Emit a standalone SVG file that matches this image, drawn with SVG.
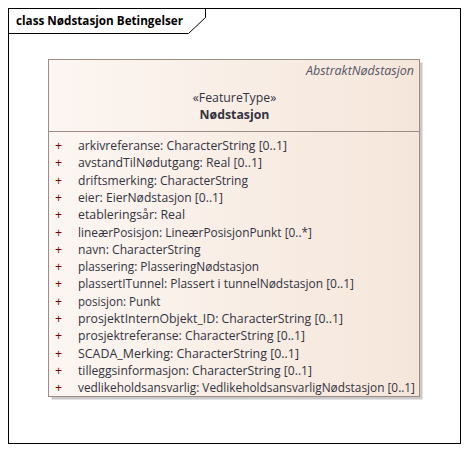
<svg xmlns="http://www.w3.org/2000/svg" width="469" height="452" viewBox="0 0 469 452">
<defs>
<linearGradient id="g" x1="0" y1="0" x2="1" y2="0">
<stop offset="0" stop-color="#FCF6F2"/>
<stop offset="1" stop-color="#F5E6DA"/>
</linearGradient>
<style>
.t{font-family:"Open Sans","Noto Sans","DejaVu Sans",sans-serif;font-size:12.3px;fill:#333340}
.p{font-family:"Open Sans","Noto Sans","DejaVu Sans",sans-serif;font-size:12.3px;fill:#800000}
.b{font-weight:bold}
</style>
</defs>
<rect x="0" y="0" width="469" height="452" fill="#FFFFFF"/>
<g id="frame">
<rect x="8.5" y="8.5" width="452" height="435" fill="none" stroke="#000" stroke-width="1"/>
<path d="M8.5 33.5 H188.5 L205.5 17.5 V8.5" fill="none" stroke="#000" stroke-width="1"/>
<text x="16" y="25" class="t b" style="fill:#000;font-size:12px" textLength="167" lengthAdjust="spacingAndGlyphs">class Nødstasjon Betingelser</text>
</g>
<g id="Nodstasjon">
<rect x="51.5" y="62.5" width="371" height="337" fill="#C9C9C9"/>
<rect x="48.5" y="59.5" width="371" height="337" fill="url(#g)" stroke="#9E8C88" stroke-width="1"/>
<line x1="48.5" y1="131.5" x2="419.5" y2="131.5" stroke="#9E8C88" stroke-width="1"/>
<text x="414" y="75" class="t" style="font-style:italic;fill:#555566" text-anchor="end" textLength="108" lengthAdjust="spacingAndGlyphs">AbstraktNødstasjon</text>
<text x="234.5" y="102" class="t" text-anchor="middle">«FeatureType»</text>
<text x="234.5" y="119" class="t b" text-anchor="middle">Nødstasjon</text>
<g class="p" text-anchor="middle">
<text x="58.5" y="150">+</text>
<text x="58.5" y="167.3">+</text>
<text x="58.5" y="184.6">+</text>
<text x="58.5" y="201.9">+</text>
<text x="58.5" y="219.2">+</text>
<text x="58.5" y="236.5">+</text>
<text x="58.5" y="253.8">+</text>
<text x="58.5" y="271.1">+</text>
<text x="58.5" y="288.4">+</text>
<text x="58.5" y="305.7">+</text>
<text x="58.5" y="323">+</text>
<text x="58.5" y="340.3">+</text>
<text x="58.5" y="357.6">+</text>
<text x="58.5" y="374.9">+</text>
<text x="58.5" y="392.2">+</text>
</g>
<g class="t" lengthAdjust="spacingAndGlyphs">
<text x="78" y="150" textLength="209" lengthAdjust="spacingAndGlyphs">arkivreferanse: CharacterString [0..1]</text>
<text x="78" y="167.3" textLength="184" lengthAdjust="spacingAndGlyphs">avstandTilNødutgang: Real [0..1]</text>
<text x="78" y="184.6" textLength="170" lengthAdjust="spacingAndGlyphs">driftsmerking: CharacterString</text>
<text x="78" y="201.9" textLength="145" lengthAdjust="spacingAndGlyphs">eier: EierNødstasjon [0..1]</text>
<text x="78" y="219.2" textLength="107" lengthAdjust="spacingAndGlyphs">etableringsår: Real</text>
<text x="78" y="236.5" textLength="234" lengthAdjust="spacingAndGlyphs">lineærPosisjon: LineærPosisjonPunkt [0..*]</text>
<text x="78" y="253.8" textLength="122.5" lengthAdjust="spacingAndGlyphs">navn: CharacterString</text>
<text x="78" y="271.1" textLength="181" lengthAdjust="spacingAndGlyphs">plassering: PlasseringNødstasjon</text>
<text x="78" y="288.4" textLength="276" lengthAdjust="spacingAndGlyphs">plassertITunnel: Plassert i tunnelNødstasjon [0..1]</text>
<text x="78" y="305.7" textLength="82.5" lengthAdjust="spacingAndGlyphs">posisjon: Punkt</text>
<text x="78" y="323" textLength="265" lengthAdjust="spacingAndGlyphs">prosjektInternObjekt_ID: CharacterString [0..1]</text>
<text x="78" y="340.3" textLength="227" lengthAdjust="spacingAndGlyphs">prosjektreferanse: CharacterString [0..1]</text>
<text x="78" y="357.6" textLength="221" lengthAdjust="spacingAndGlyphs">SCADA_Merking: CharacterString [0..1]</text>
<text x="78" y="374.9" textLength="234" lengthAdjust="spacingAndGlyphs">tilleggsinformasjon: CharacterString [0..1]</text>
<text x="78" y="392.2" textLength="337" lengthAdjust="spacingAndGlyphs">vedlikeholdsansvarlig: VedlikeholdsansvarligNødstasjon [0..1]</text>
</g>
</g>
<g id="connectors"/>
</svg>
